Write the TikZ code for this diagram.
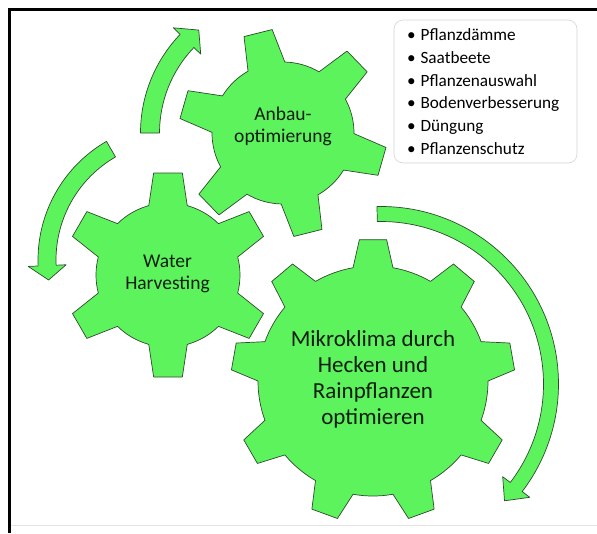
\documentclass[tikz,border=0pt]{standalone}
\usepackage{fontspec}
\setmainfont{Carlito}
\usepackage{tikz}
\definecolor{gearfill}{RGB}{93,243,93}
\definecolor{gearline}{RGB}{45,75,45}
\definecolor{labeltext}{RGB}{14,30,14}
\definecolor{boxline}{RGB}{212,212,212}
\tikzset{
  cog/.style      = {fill=gearfill, draw=gearline, line width=0.7pt, line join=round},
  cogtext/.style  = {align=center, text=labeltext, inner sep=0pt},
  smallcog/.style = {cogtext, font=\fontsize{19.5}{22}\selectfont},
  bigcog/.style   = {cogtext, font=\fontsize{23}{26}\selectfont},
  listbox/.style  = {draw=boxline, fill=white, rounded corners=9pt, line width=0.6pt,
                     minimum width=183pt, minimum height=143pt, text width=157pt,
                     inner xsep=13pt, align=left, text=black,
                     font=\fontsize{17.2}{22.8}\selectfont},
  frame/.style    = {line width=2.5pt, black},
}

% gear outline: centre, teeth, root radius, tip radius, first tooth, half base angle, half tip angle
\newcommand{\cogwheel}[7]{%
  \pgfmathsetmacro{\cogstep}{360/#2}%
  \pgfmathsetmacro{\coglast}{360-\cogstep}%
  \begin{scope}[shift={(#1)}, rotate=#5]
    \filldraw[cog] (-#6:#3)
      \foreach \a in {0,\cogstep,...,\coglast}{
        -- (\a-#7:#4) -- (\a+#7:#4) -- (\a+#6:#3)
        arc[start angle=\a+#6, end angle=\a+\cogstep-#6, radius=#3]
      } -- cycle;
  \end{scope}}

% round block arrow: centre, radius, tail angle, head angle, tip angle, half shaft, half head
\newcommand{\bentarrow}[7]{%
  \begin{scope}[shift={(#1)}]
    \filldraw[cog] (#3:#2+#6) arc[start angle=#3, end angle=#4, radius=#2+#6]
      -- (#4:#2+#7) -- (#5:#2) -- (#4:#2-#7) -- (#4:#2-#6)
      arc[start angle=#4, end angle=#3, radius=#2-#6] -- cycle;
  \end{scope}}

\begin{document}
\begin{tikzpicture}[x=1pt, y=1pt]
  \useasboundingbox (0,0) rectangle (597,-533);

  % frame
  \draw[frame] (9.5,-533) -- (9.5,-9.5) -- (597,-9.5);
  \draw[gray!20, line width=0.8pt] (10.8,-525) -- (597,-525);

  \coordinate (cA) at (283,-133);
  \coordinate (cW) at (168,-275);
  \coordinate (cK) at (373,-381);
  \coordinate (cB) at (175,-260);
  \coordinate (cR) at (381,-384);

  % round arrows
  \bentarrow{cA}{133}{180}{136.2}{129.3}{9.5}{19}
  \bentarrow{cB}{128}{120}{182.5}{189}{9}{19}
  \bentarrow{cR}{170}{91.3}{-37.3}{-43.4}{7.5}{17}

  % gears
  \cogwheel{cA}{6}{71}{104}{104}{15.5}{8}
  \cogwheel{cW}{6}{72}{103}{90}{15.5}{8}
  \cogwheel{cK}{9}{115}{142}{90}{10}{5.5}

  \node[smallcog] (anbau) at (283,-126)   {Anbau-\\optimierung};
  \node[smallcog] (water) at (167.5,-274) {Water\\Harvesting};
  \node[bigcog]   (klima) at (373,-379)   {Mikroklima durch\\Hecken und\\Rainpflanzen\\optimieren};

  \node[listbox] (liste) at (485.5,-91.5) {%
    \textbullet\hspace{5pt}Pflanzdämme\\
    \textbullet\hspace{5pt}Saatbeete\\
    \textbullet\hspace{5pt}Pflanzenauswahl\\
    \textbullet\hspace{5pt}Bodenverbesserung\\
    \textbullet\hspace{5pt}Düngung\\
    \textbullet\hspace{5pt}Pflanzenschutz};
\end{tikzpicture}
\end{document}
